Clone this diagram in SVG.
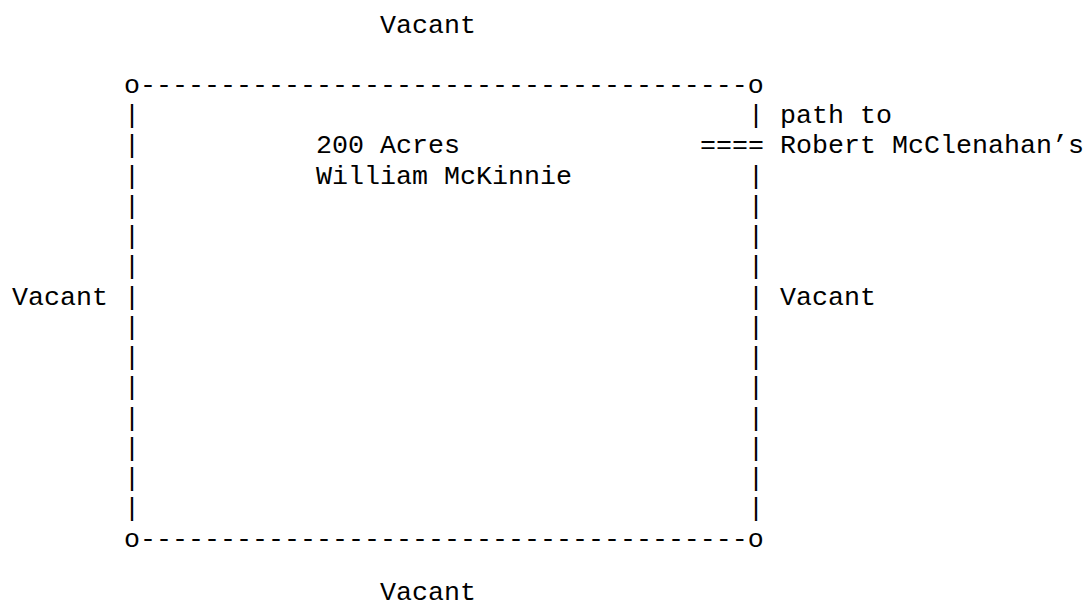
<svg xmlns="http://www.w3.org/2000/svg" width="1088" height="609" viewBox="0 0 1088 609">
<style>
text{font-family:"Liberation Mono","DejaVu Sans Mono",monospace;font-size:26.67px;fill:#000;white-space:pre}
</style>
<rect width="1088" height="609" fill="#fff"/>
<g id="lot-boundary">
<text x="124" y="92.8">o--------------------------------------o</text>
<text x="124" y="546.55">o--------------------------------------o</text>
<text x="124" y="123.05">|</text><text x="748" y="123.05">|</text>
<text x="124" y="153.3">|</text>
<text x="124" y="183.55">|</text><text x="748" y="183.55">|</text>
<text x="124" y="213.8">|</text><text x="748" y="213.8">|</text>
<text x="124" y="244.05">|</text><text x="748" y="244.05">|</text>
<text x="124" y="274.3">|</text><text x="748" y="274.3">|</text>
<text x="124" y="304.55">|</text><text x="748" y="304.55">|</text>
<text x="124" y="334.8">|</text><text x="748" y="334.8">|</text>
<text x="124" y="365.05">|</text><text x="748" y="365.05">|</text>
<text x="124" y="395.3">|</text><text x="748" y="395.3">|</text>
<text x="124" y="425.55">|</text><text x="748" y="425.55">|</text>
<text x="124" y="455.8">|</text><text x="748" y="455.8">|</text>
<text x="124" y="486.05">|</text><text x="748" y="486.05">|</text>
<text x="124" y="516.3">|</text><text x="748" y="516.3">|</text>
</g>
<g id="lot-label">
<text x="316" y="153.3">200 Acres</text>
<text x="316" y="183.55">William McKinnie</text>
</g>
<g id="connectors">
<text x="700" y="153.3">====</text>
</g>
<g id="path-label">
<text x="780" y="123.05">path to</text>
<text x="780" y="153.3">Robert McClenahan’s</text>
</g>
<g id="vacant-north"><text x="380" y="33">Vacant</text></g>
<g id="vacant-west"><text x="12" y="304.55">Vacant</text></g>
<g id="vacant-east"><text x="780" y="304.55">Vacant</text></g>
<g id="vacant-south"><text x="380" y="600">Vacant</text></g>
</svg>
